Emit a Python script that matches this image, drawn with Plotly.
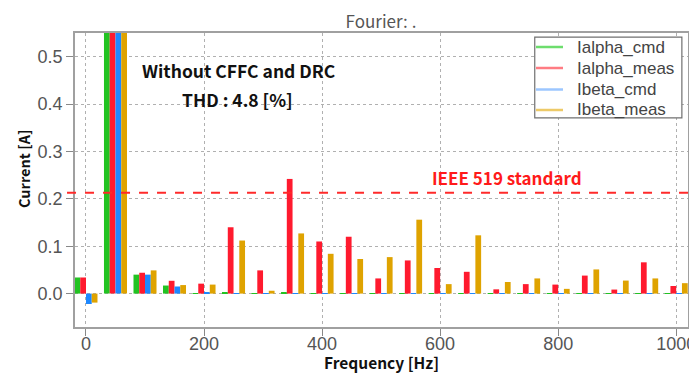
import plotly.graph_objects as go

freqs = [0, 50, 100, 150, 200, 250, 300, 350, 400, 450, 500, 550, 600, 650, 700, 750, 800, 850, 900, 950, 1000]
ialpha_cmd = [0.034, 0.9, 0.040, 0.017, 0.001, 0.002, 0.001, 0.002, 0.001, 0.001, 0.001, 0.001, 0.001, 0.001, 0.001, 0.001, 0.001, 0.001, 0.001, 0.001, 0.001]
ialpha_meas = [0.034, 0.9, 0.044, 0.027, 0.021, 0.140, 0.049, 0.242, 0.110, 0.120, 0.032, 0.070, 0.054, 0.046, 0.009, 0.020, 0.019, 0.038, 0.0085, 0.066, 0.016]
ibeta_cmd = [-0.022, 0.9, 0.040, 0.015, 0.002, 0.001, 0.001, 0.001, 0.001, 0.001, 0.001, 0.001, 0.001, 0.001, 0.001, 0.001, 0.001, 0.001, 0.001, 0.001, 0.001]
ibeta_meas = [-0.019, 0.9, 0.049, 0.018, 0.019, 0.112, 0.006, 0.127, 0.084, 0.073, 0.077, 0.156, 0.020, 0.123, 0.0245, 0.032, 0.010, 0.051, 0.0275, 0.032, 0.022]

series_names = ["Ialpha_cmd", "Ialpha_meas", "Ibeta_cmd", "Ibeta_meas"]
series_vals = [ialpha_cmd, ialpha_meas, ibeta_cmd, ibeta_meas]
bar_colors = ["#22c322", "#ff1a2e", "#1e88ff", "#dfa300"]
legend_colors = ["rgba(60,210,60,0.75)", "rgba(255,80,90,0.75)", "rgba(90,160,255,0.6)", "rgba(230,180,40,0.7)"]

ieee_limit = 0.213

# page has an 8px body margin: figure is sized so it fills the 697x376 window
W, H = 689, 368
OFF = 8

fig = go.Figure()
for name, vals, c in zip(series_names, series_vals, bar_colors):
    fig.add_trace(go.Bar(x=freqs, y=vals, name=name, marker=dict(color=c, line=dict(width=0)),
                         showlegend=False))

fig.add_shape(type="line", xref="paper", yref="y", x0=-0.013, x1=1.02, y0=ieee_limit, y1=ieee_limit,
              line=dict(color="#ff2a2a", width=2, dash="dash"), layer="above")

fig.add_annotation(x=713, y=0.244, xref="x", yref="y", text="<b>IEEE 519 standard</b>", showarrow=False,
                   font=dict(color="#ff1a1a", size=17, family="Noto Sans CJK KR"))
fig.add_annotation(x=259, y=0.470, xref="x", yref="y", text="<b>Without CFFC and DRC</b>", showarrow=False,
                   font=dict(color="#111", size=17.5, family="Noto Sans CJK KR"))
fig.add_annotation(x=256, y=0.409, xref="x", yref="y", text="<b>THD : 4.8 [%]</b>", showarrow=False,
                   font=dict(color="#111", size=17.5, family="Noto Sans CJK KR"))

# axis titles
fig.add_annotation(x=(23 - 75) / 613, y=1 - (169 - 33) / 294, xref="paper", yref="paper",
                   xanchor="center", yanchor="middle", text="<b>Current [A]</b>", showarrow=False,
                   textangle=-90, font=dict(color="#111", size=14.5, family="Noto Sans CJK KR"))
fig.add_annotation(x=(381 - 75) / 613, y=1 - (362 - 33) / 294, xref="paper", yref="paper",
                   xanchor="center", yanchor="middle", text="<b>Frequency [Hz]</b>", showarrow=False,
                   font=dict(color="#111", size=15.5, family="Noto Sans CJK KR"))

# manual legend (box, line samples, labels)
leg_x0, leg_x1, leg_y0, leg_y1 = 0.750, 0.990, 0.711, 0.986
fig.add_shape(type="rect", xref="paper", yref="paper", x0=leg_x0, x1=leg_x1, y0=leg_y1, y1=leg_y0,
              line=dict(color="#707070", width=1.2), fillcolor="white", layer="above")
row_px = [47, 68, 89.5, 110]
for name, c, ry in zip(series_names, legend_colors, row_px):
    yp = 1 - (ry - 33) / 294
    fig.add_shape(type="line", xref="paper", yref="paper", x0=(536 - 75) / 613, x1=(563 - 75) / 613,
                  y0=yp, y1=yp, line=dict(color=c, width=2.5), layer="above")
    fig.add_annotation(x=(575 - 75) / 613, y=yp, xref="paper", yref="paper", text=name, showarrow=False,
                       xanchor="left", yanchor="middle",
                       font=dict(size=17, color="#444", family="Liberation Sans"))

axis_common = dict(showline=True, linecolor="#a0a0a0", linewidth=1.5, mirror=True,
                   ticks="outside", ticklen=7, tickcolor="#888", tickwidth=1,
                   showgrid=True, gridcolor="#b0b0b0", griddash="dot", gridwidth=1,
                   zeroline=False, automargin=False,
                   tickfont=dict(size=18, color="#555", family="Liberation Sans"))

fig.update_layout(
    width=W, height=H,
    margin=dict(l=75 - OFF, r=9, t=33 - OFF, b=49, autoexpand=False),
    paper_bgcolor="white", plot_bgcolor="white",
    barmode="group", bargap=0.22, bargroupgap=0,
    showlegend=False,
    title=dict(text="Fourier: .", x=(381 - OFF) / W, xref="container", xanchor="center",
               y=1 - (22 - OFF) / H, yref="container", yanchor="middle",
               font=dict(size=17, color="#555", family="Noto Sans CJK KR")),
    xaxis=dict(range=[-18.6, 1020], dtick=200, tick0=0, ticklabelstandoff=-7, **axis_common),
    yaxis=dict(range=[-0.0705, 0.55], dtick=0.1, tick0=0, tickformat=".1f", **axis_common),
)

fig.write_html("out.html")
